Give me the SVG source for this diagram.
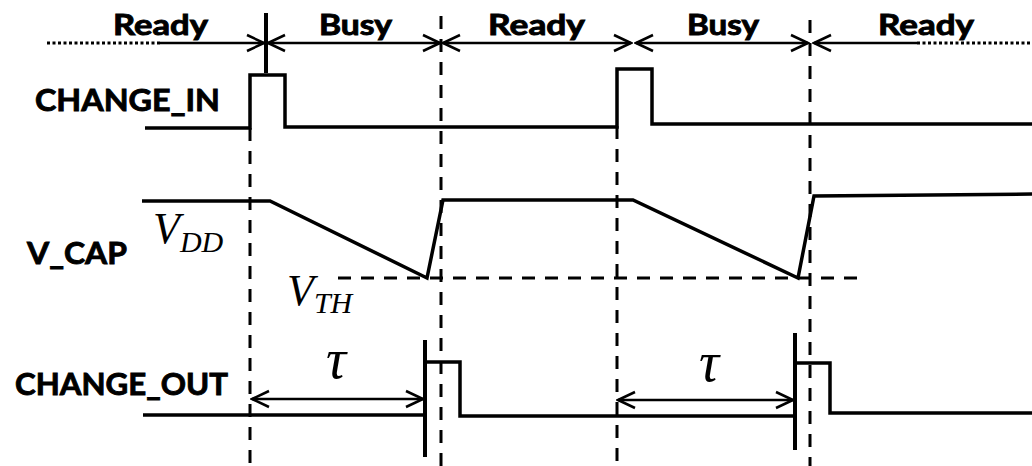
<svg xmlns="http://www.w3.org/2000/svg" width="1032" height="466" viewBox="0 0 1032 466">
  <style>
    .sig{stroke:#000;stroke-width:3.5;fill:none;stroke-linejoin:miter;stroke-linecap:butt}
    .bar{stroke:#000;stroke-width:4;fill:none}
    .dash{stroke:#000;stroke-width:3;fill:none;stroke-dasharray:13 10}
    .dot{stroke:#000;stroke-width:3;fill:none;stroke-dasharray:3 2.5}
    .arr{stroke:#000;stroke-width:2.5;fill:none}
    .lbl{font-family:Lato,"Liberation Sans",sans-serif;font-weight:bold;fill:#000;stroke:#000;stroke-width:0.9}
    .math{font-family:"Liberation Serif","DejaVu Serif",serif;font-style:italic;fill:#000}
  </style>
  <defs>
    <marker id="ah" viewBox="-20 -10 22 20" refX="0" refY="0" markerWidth="22" markerHeight="20" markerUnits="userSpaceOnUse" orient="auto-start-reverse">
      <path d="M-17,-8 L0,0 L-17,8" fill="none" stroke="#000" stroke-width="2.5"/>
    </marker>
  </defs>
  <rect width="1032" height="466" fill="#fff"/>

  <g id="phase-labels" class="lbl" font-size="28">
    <text x="113" y="35" textLength="95" lengthAdjust="spacingAndGlyphs">Ready</text>
    <text x="319" y="35" textLength="73" lengthAdjust="spacingAndGlyphs">Busy</text>
    <text x="488" y="35" textLength="97" lengthAdjust="spacingAndGlyphs">Ready</text>
    <text x="687" y="35" textLength="72" lengthAdjust="spacingAndGlyphs">Busy</text>
    <text x="878" y="35" textLength="96" lengthAdjust="spacingAndGlyphs">Ready</text>
  </g>

  <g id="signal-labels" class="lbl" font-size="31">
    <text x="35" y="111" textLength="185" lengthAdjust="spacingAndGlyphs">CHANGE_IN</text>
    <text x="27" y="264" textLength="100" lengthAdjust="spacingAndGlyphs">V_CAP</text>
    <text x="15" y="395" textLength="213" lengthAdjust="spacingAndGlyphs">CHANGE_OUT</text>
  </g>

  <g id="math-labels" class="math">
    <text x="153" y="243" font-size="44">V<tspan font-size="30" dy="9">DD</tspan></text>
    <text x="287" y="305" font-size="44">V<tspan font-size="30" dy="8">TH</tspan></text>
    <text x="326" y="378" font-size="56">τ</text>
    <text x="699" y="381" font-size="56">τ</text>
  </g>

  <g id="connectors">
    <line class="dot" x1="47" y1="43" x2="160" y2="43"/>
    <line class="arr" x1="160" y1="43" x2="264" y2="43" marker-end="url(#ah)"/>
    <line class="arr" x1="268" y1="43" x2="440" y2="43" marker-start="url(#ah)" marker-end="url(#ah)"/>
    <line class="arr" x1="443" y1="43" x2="631" y2="43" marker-start="url(#ah)" marker-end="url(#ah)"/>
    <line class="arr" x1="636" y1="43" x2="808" y2="43" marker-start="url(#ah)" marker-end="url(#ah)"/>
    <line class="arr" x1="814" y1="43" x2="917" y2="43" marker-start="url(#ah)"/>
    <line class="dot" x1="917" y1="43" x2="1030" y2="43"/>
    <line class="bar" x1="266" y1="13" x2="266" y2="73"/>
    <line class="dash" x1="250" y1="128" x2="250" y2="466"/>
    <line class="dash" x1="441" y1="16" x2="441" y2="466"/>
    <line class="dash" x1="617" y1="126" x2="617" y2="466"/>
    <line class="dash" x1="810" y1="20" x2="810" y2="466"/>
    <line class="dash" x1="338" y1="278" x2="860" y2="278"/>
    <line class="arr" x1="252" y1="399" x2="423" y2="399" marker-start="url(#ah)" marker-end="url(#ah)"/>
    <line class="arr" x1="618" y1="400" x2="793" y2="400" marker-start="url(#ah)" marker-end="url(#ah)"/>
  </g>

  <g id="change-in">
    <polyline class="sig" points="145,128 250,128 250,75 285,75 285,127 617,127 617,69 652,69 652,124 1032,124"/>
  </g>

  <g id="v-cap">
    <polyline class="sig" points="142,201 270,201 427,278 443,200 633,200 798,278 814,196 1032,194"/>
  </g>

  <g id="change-out">
    <polyline class="sig" points="143,415 425,415"/>
    <line class="bar" x1="425" y1="340" x2="425" y2="457"/>
    <polyline class="sig" points="425,362 460,362 460,416 795,416"/>
    <line class="bar" x1="795" y1="333" x2="795" y2="450"/>
    <polyline class="sig" points="795,363 830,363 830,413 1032,413"/>
  </g>
</svg>
